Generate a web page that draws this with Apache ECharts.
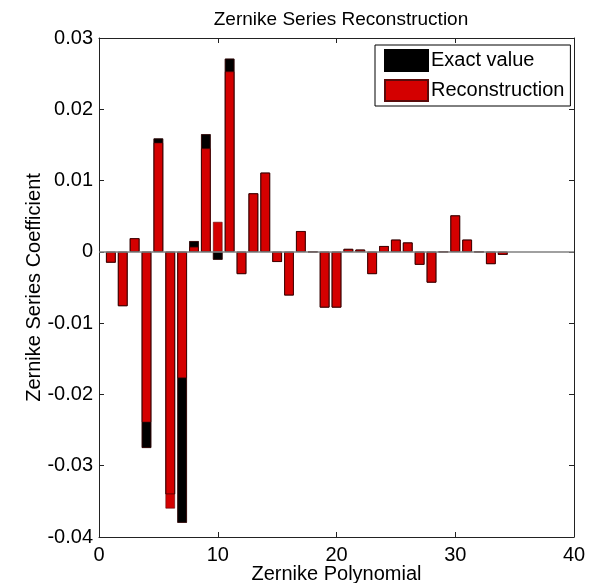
<!DOCTYPE html>
<html>
<head>
<meta charset="utf-8">
<script src="https://cdn.jsdelivr.net/npm/echarts@6/dist/echarts.min.js"></script>
<style>
  html, body { margin: 0; padding: 0; background: #fff; }
  #chart { width: 589px; height: 583px; }
</style>
</head>
<body>
<div id="chart"></div>
<script>
// Zernike polynomial index (1..34)
const polyIndex = [1, 2, 3, 4, 5, 6, 7, 8, 9, 10, 11, 12, 13, 14, 15, 16, 17,
  18, 19, 20, 21, 22, 23, 24, 25, 26, 27, 28, 29, 30, 31, 32, 33, 34];

// Exact coefficients
const exactValue = [-0.0015, -0.0076, 0.0019, -0.0275, 0.0159, -0.0340, -0.0380,
  0.0015, 0.0165, -0.0011, 0.0271, -0.0031, 0.0082, 0.0111, -0.0014, -0.0061,
  0.0029, 0, -0.0078, -0.0078, 0.0004, 0.0003, -0.0031, 0.0008, 0.0017, 0.0013,
  -0.0018, -0.0043, 0, 0.0051, 0.0017, 0, -0.0017, -0.0004];

// Reconstructed coefficients
const reconstruction = [-0.0015, -0.0076, 0.0019, -0.0239, 0.0153, -0.0360, -0.0177,
  0.0007, 0.0145, 0.0042, 0.0253, -0.0031, 0.0082, 0.0111, -0.0014, -0.0061,
  0.0029, 0, -0.0078, -0.0078, 0.0004, 0.0003, -0.0031, 0.0008, 0.0017, 0.0013,
  -0.0018, -0.0043, 0, 0.0051, 0.0017, 0, -0.0017, -0.0004];

const xTicks = [0, 10, 20, 30, 40];
const yTicks = [-0.04, -0.03, -0.02, -0.01, 0, 0.01, 0.02, 0.03];

const FONT = "'Liberation Sans', Arial, sans-serif";
const AXIS_COLOR = '#222';

const pairs = (vals) => polyIndex.map((k, i) => [k, vals[i]]);

const chart = echarts.init(document.getElementById('chart'), null, { renderer: 'canvas' });

const tickStyle = { inside: true, length: 5, lineStyle: { color: AXIS_COLOR, width: 1 } };

const baseX = {
  type: 'value',
  min: xTicks[0],
  max: xTicks[xTicks.length - 1],
  interval: xTicks[1] - xTicks[0],
  splitLine: { show: false },
  axisLine: { show: true, onZero: false, lineStyle: { color: AXIS_COLOR, width: 1 } },
  axisTick: tickStyle
};
const baseY = {
  type: 'value',
  min: yTicks[0],
  max: yTicks[yTicks.length - 1],
  interval: 0.01,
  splitLine: { show: false },
  axisLine: { show: true, onZero: false, lineStyle: { color: AXIS_COLOR, width: 1 } },
  axisTick: tickStyle
};

chart.setOption({
  animation: false,
  backgroundColor: '#fff',
  title: {
    text: 'Zernike Series Reconstruction',
    left: 336,
    top: 5,
    textAlign: 'center',
    textStyle: { fontFamily: FONT, fontSize: 19, fontWeight: 'normal', color: '#000' }
  },
  legend: {
    data: ['Exact value', 'Reconstruction'],
    orient: 'vertical',
    left: 375,
    top: 45,
    icon: 'rect',
    itemWidth: 43,
    itemHeight: 21,
    itemGap: 7,
    padding: [4, 6, 4, 9],
    borderColor: '#000',
    borderWidth: 1,
    backgroundColor: '#fff',
    textStyle: { fontFamily: FONT, fontSize: 20, color: '#000', padding: [0, 0, 0, -2] }
  },
  grid: { left: 99, right: 15, top: 38, bottom: 46, containLabel: false, outerBoundsMode: 'none' },
  xAxis: [
    Object.assign({}, baseX, {
      position: 'bottom',
      name: 'Zernike Polynomial',
      nameLocation: 'middle',
      nameGap: 27,
      nameMoveOverlap: false,
      nameTextStyle: { fontFamily: FONT, fontSize: 20, color: '#000' },
      axisLabel: { fontFamily: FONT, fontSize: 20, color: '#000', margin: 8 }
    }),
    Object.assign({}, baseX, { position: 'top', axisLabel: { show: false } })
  ],
  yAxis: [
    Object.assign({}, baseY, {
      position: 'left',
      name: 'Zernike Series Coefficient',
      nameLocation: 'middle',
      nameGap: 55,
      nameMoveOverlap: false,
      nameTextStyle: { fontFamily: FONT, fontSize: 20, color: '#000' },
      axisLabel: {
        fontFamily: FONT, fontSize: 20, color: '#000', margin: 6,
        formatter: (v) => String(Math.round(v * 100) / 100)
      }
    }),
    Object.assign({}, baseY, { position: 'right', axisLabel: { show: false } })
  ],
  series: [
    {
      name: 'Exact value',
      type: 'bar',
      xAxisIndex: 0,
      yAxisIndex: 0,
      barWidth: 9.5,
      barGap: '-100%',
      data: pairs(exactValue),
      itemStyle: { color: '#000', borderColor: '#000', borderWidth: 0.5 },
      z: 2
    },
    {
      name: 'Reconstruction',
      type: 'bar',
      xAxisIndex: 0,
      yAxisIndex: 0,
      barWidth: 9.5,
      barGap: '-100%',
      data: pairs(reconstruction),
      itemStyle: { color: '#d40000', borderColor: '#5a0a0a', borderWidth: 0.6 },
      markLine: {
        silent: true,
        symbol: 'none',
        label: { show: false },
        lineStyle: { color: '#808080', width: 1.5, type: 'solid' },
        data: [{ yAxis: 0 }]
      },
      z: 3
    },
    {
      // outline of the exact values, drawn above the reconstruction
      name: 'exact-outline',
      type: 'bar',
      xAxisIndex: 0,
      yAxisIndex: 0,
      barWidth: 9.5,
      barGap: '-100%',
      data: pairs(exactValue),
      itemStyle: { color: 'rgba(0,0,0,0)', borderColor: '#3a0000', borderWidth: 0.7 },
      z: 4
    }
  ]
});
</script>
</body>
</html>
